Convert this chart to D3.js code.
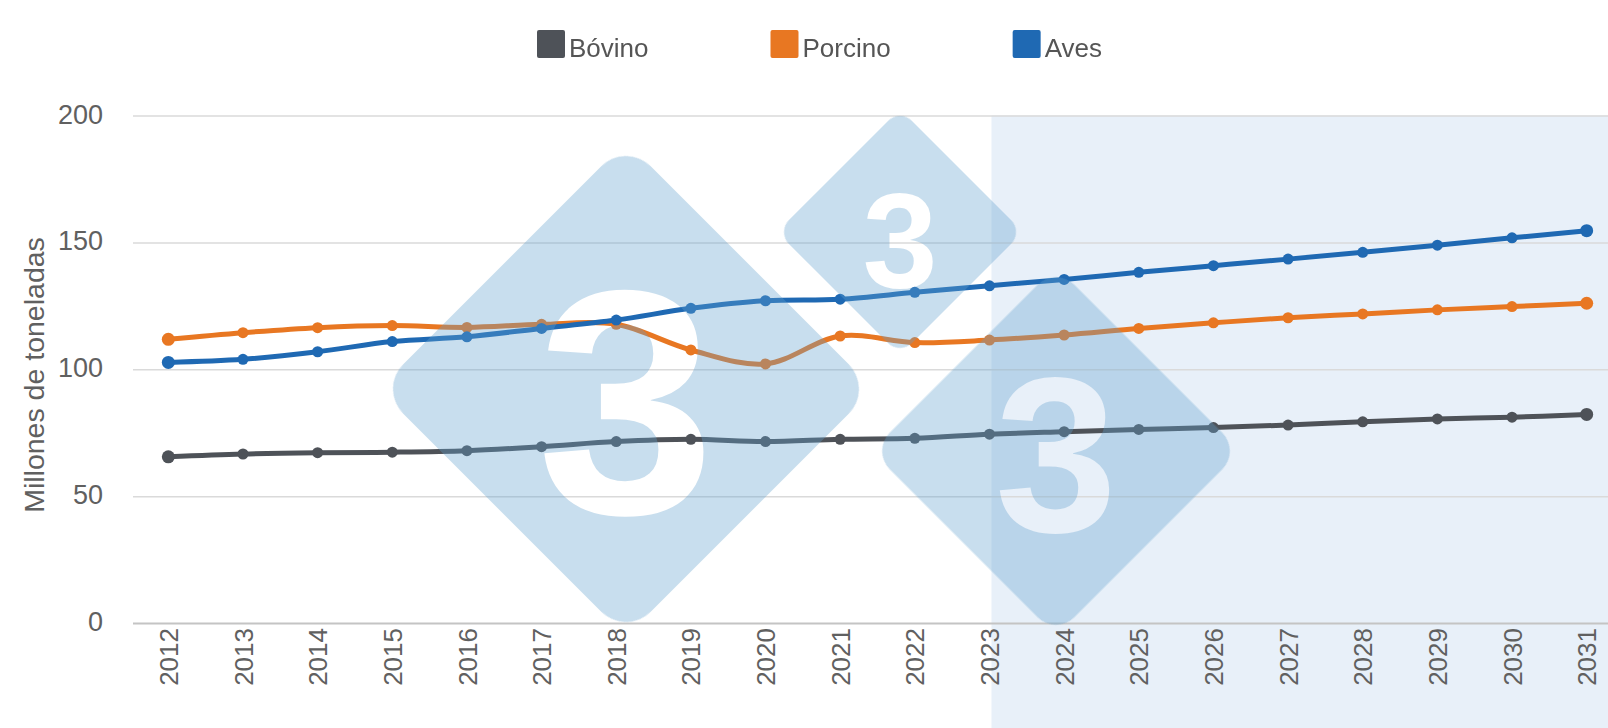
<!DOCTYPE html>
<html>
<head>
<meta charset="utf-8">
<script src="https://cdnjs.cloudflare.com/ajax/libs/d3/7.8.5/d3.min.js"></script>
<style>
    html, body { margin: 0; padding: 0; background: #fff; }
    svg { display: block; font-family: "Liberation Sans", Arial, sans-serif; }
</style>
</head>
<body>
<div class="chart"></div>
<script>
var years = [2012, 2013, 2014, 2015, 2016, 2017, 2018, 2019, 2020, 2021,
    2022, 2023, 2024, 2025, 2026, 2027, 2028, 2029, 2030, 2031];

var bovino = [65.5, 66.6, 67.1, 67.3, 67.9, 69.5, 71.5, 72.4, 71.5, 72.4,
    72.8, 74.4, 75.4, 76.3, 77.0, 78.0, 79.3, 80.4, 81.1, 82.2];
var porcino = [111.8, 114.4, 116.4, 117.2, 116.5, 117.7, 117.7, 107.6, 102.1, 113.1,
    110.5, 111.5, 113.5, 116.1, 118.3, 120.3, 121.8, 123.4, 124.7, 126.0];
var aves = [102.7, 103.9, 106.9, 110.9, 112.8, 116.1, 119.4, 124.0, 127.0, 127.6,
    130.3, 132.9, 135.4, 138.2, 140.8, 143.4, 146.1, 148.9, 151.8, 154.6];

var seriesNames = ['Bóvino', 'Porcino', 'Aves'];
var seriesColors = ['#4e5258', '#e87722', '#1f69b3'];
var yTicks = [0, 50, 100, 150, 200];
var projectionStart = 2023;
var yTitle = 'Millones de toneladas';

var width = 1608, height = 728;
var plotLeft = 133, plotTop = 115.5, plotBottom = 623;

var svg = d3.select('.chart').append('svg')
    .attr('width', width)
    .attr('height', height);

var x = d3.scalePoint()
    .domain(years)
    .range([131, 1624])
    .padding(0.5);

var y = d3.scaleLinear()
    .domain([0, 200])
    .range([plotBottom, plotTop]);

/* projection band */
svg.append('rect')
    .attr('x', x(projectionStart) + 2)
    .attr('y', plotTop)
    .attr('width', width - x(projectionStart) - 2)
    .attr('height', height - plotTop)
    .attr('fill', '#e8f0f9');

/* y axis + gridlines */
var yAxis = svg.append('g')
    .attr('transform', 'translate(' + plotLeft + ',0)')
    .call(d3.axisLeft(y).tickValues(yTicks).tickSize(-(width - plotLeft)).tickPadding(30));

yAxis.select('.domain').remove();
yAxis.selectAll('line')
    .attr('stroke', function (d) { return d === 0 ? '#c4c4c4' : '#dadada'; })
    .attr('stroke-width', function (d) { return d === 0 ? 2 : 1.5; });
yAxis.selectAll('text')
    .attr('fill', '#606060')
    .attr('dy', '0.28em')
    .style('font-size', '27px');

/* x axis, labels rotated */
var xAxis = svg.append('g')
    .attr('transform', 'translate(0,' + plotBottom + ')')
    .call(d3.axisBottom(x).tickSize(0).tickPadding(0));

xAxis.select('.domain').remove();
xAxis.selectAll('text')
    .attr('fill', '#606060')
    .style('font-size', '26px')
    .attr('text-anchor', 'end')
    .attr('transform', 'rotate(-90)')
    .attr('x', -5)
    .attr('y', 0)
    .attr('dy', '0.35em');

/* y title */
svg.append('text')
    .attr('transform', 'translate(44,375) rotate(-90)')
    .attr('text-anchor', 'middle')
    .attr('fill', '#606060')
    .style('font-size', '28.5px')
    .text(yTitle);

/* series */
var allSeries = [bovino, porcino, aves];
var line = d3.line()
    .x(function (d, i) { return x(years[i]); })
    .y(function (d) { return y(d); })
    .curve(d3.curveCatmullRom.alpha(0.5));

var seriesGroup = svg.append('g');
for (var i = 0; i < allSeries.length; i++) {
    seriesGroup.append('path')
        .attr('d', line(allSeries[i]))
        .attr('fill', 'none')
        .attr('stroke', seriesColors[i])
        .attr('stroke-width', 5)
        .attr('stroke-linejoin', 'round');

    seriesGroup.selectAll('.pt' + i)
        .data(allSeries[i])
        .enter().append('circle')
        .attr('class', 'pt' + i)
        .attr('cx', function (d, j) { return x(years[j]); })
        .attr('cy', function (d) { return y(d); })
        .attr('r', function (d, j) { return (j === 0 || j === years.length - 1) ? 6.5 : 5.5; })
        .attr('fill', seriesColors[i]);
}

/* watermark: three rounded diamonds, the "3" cut out of each */
var marks = [
    {cx: 626, cy: 389, side: 350, r: 35, font: 320, ty: 398},
    {cx: 900, cy: 232, side: 174, r: 17, font: 135, ty: 238},
    {cx: 1056, cy: 451, side: 261, r: 26, font: 220, ty: 453}
];
var mask = svg.append('defs').append('mask').attr('id', 'wm-mask');
mask.append('rect')
    .attr('width', width)
    .attr('height', height)
    .attr('fill', '#fff');

var wm = svg.append('g')
    .attr('opacity', 0.35)
    .attr('mask', 'url(#wm-mask)');

marks.forEach(function (m) {
    wm.append('rect')
        .attr('x', -m.side / 2)
        .attr('y', -m.side / 2)
        .attr('width', m.side)
        .attr('height', m.side)
        .attr('rx', m.r)
        .attr('fill', '#62a0cd')
        .attr('transform', 'translate(' + m.cx + ',' + m.cy + ') rotate(45)');
    mask.append('text')
        .attr('x', m.cx)
        .attr('y', m.ty)
        .attr('dy', '0.36em')
        .attr('text-anchor', 'middle')
        .attr('fill', '#000')
        .style('font-size', m.font + 'px')
        .style('font-weight', 'bold')
        .text('3');
});

/* legend */
var legend = svg.append('g');
var lx = 537;
for (i = 0; i < seriesNames.length; i++) {
    legend.append('rect')
        .attr('x', lx)
        .attr('y', 30)
        .attr('width', 28)
        .attr('height', 28)
        .attr('rx', 2)
        .attr('fill', seriesColors[i]);
    var t = legend.append('text')
        .attr('x', lx + 32)
        .attr('y', 57)
        .attr('fill', '#555')
        .style('font-size', '26px')
        .text(seriesNames[i]);
    lx = lx + 32 + t.node().getComputedTextLength() + 122;
}
</script>
</body>
</html>
